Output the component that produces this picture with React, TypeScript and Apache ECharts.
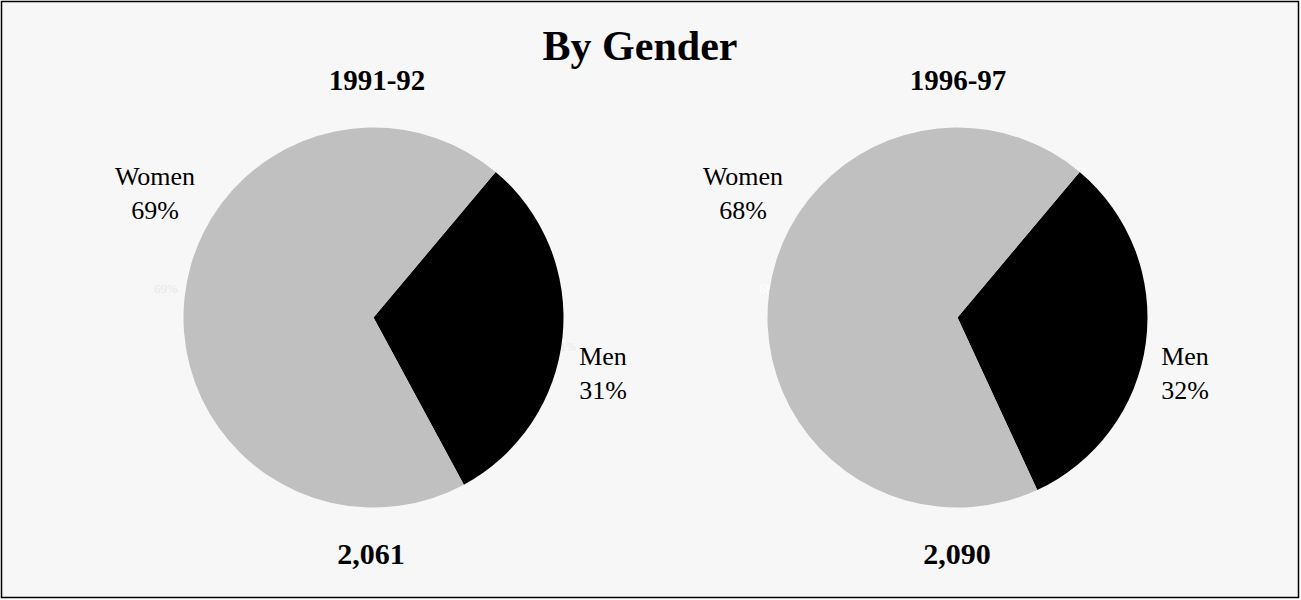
import React, { useEffect, useRef } from "react";
import * as echarts from "echarts";

const chartTitle = "By Gender";
const periods = ["1991-92", "1996-97"];
const categories = ["Men", "Women"];
const menPct = [31, 32];
const womenPct = [69, 68];
const totals = [2061, 2090];

const SERIF = "'Liberation Serif', 'Times New Roman', serif";

export default function App() {
  const ref = useRef<HTMLDivElement>(null);

  useEffect(() => {
    if (!ref.current) return;
    const chart = echarts.init(ref.current, undefined, { renderer: "svg" });

    const centers = [
      [373.5, 317.5],
      [957.5, 317.5],
    ];
    const labelPos = [
      [
        { x: 603, y: 373 },
        { x: 155, y: 193 },
      ],
      [
        { x: 1185, y: 373 },
        { x: 743, y: 193 },
      ],
    ];

    const series = periods.map((p, i) => ({
      type: "pie",
      name: p,
      center: centers[i],
      radius: 190,
      startAngle: 50,
      clockwise: true,
      silent: true,
      z: 2,
      emphasis: { disabled: true },
      label: {
        show: true,
        position: "outside",
        fontFamily: SERIF,
        fontSize: 26,
        lineHeight: 34,
        color: "#000",
        align: "center",
        formatter: (d: any) => `${d.name}\n${Math.round(d.percent)}%`,
      },
      labelLine: { show: false },
      labelLayout: (params: any) => ({
        x: labelPos[i][params.dataIndex].x,
        y: labelPos[i][params.dataIndex].y,
        align: "center",
        verticalAlign: "middle",
      }),
      data: categories.map((c, k) => ({
        name: c,
        value: k === 0 ? menPct[i] : womenPct[i],
        itemStyle: { color: k === 0 ? "#000000" : "#c0c0c0" },
      })),
    }));

    const graphics: any[] = [
      {
        type: "rect",
        z: 0,
        shape: { x: 1.5, y: 1.5, width: 1297, height: 596 },
        style: { fill: "#f7f7f7", stroke: "#000", lineWidth: 1.5 },
      },
      {
        type: "text",
        z: 10,
        x: 640,
        y: 46,
        style: {
          text: chartTitle,
          font: `bold 42px ${SERIF}`,
          fill: "#000",
          textAlign: "center",
          textVerticalAlign: "middle",
        },
      },
      // faint ghost labels behind the pies
      {
        type: "text",
        z: 1,
        x: 166,
        y: 288,
        style: {
          text: `${womenPct[0]}%`,
          font: `13px ${SERIF}`,
          fill: "#e8e8e8",
          textAlign: "center",
          textVerticalAlign: "middle",
        },
      },
      {
        type: "text",
        z: 1,
        x: 565,
        y: 347,
        style: {
          text: `${menPct[0]}%`,
          font: `12px ${SERIF}`,
          fill: "#e8e8e8",
          textAlign: "center",
          textVerticalAlign: "middle",
        },
      },
      {
        type: "text",
        z: 1,
        x: 771,
        y: 288,
        style: {
          text: `${womenPct[1]}%`,
          font: `13px ${SERIF}`,
          fill: "#ffffff",
          textAlign: "center",
          textVerticalAlign: "middle",
        },
      },
    ];

    periods.forEach((p, i) => {
      graphics.push({
        type: "text",
        z: 10,
        x: [377, 958][i],
        y: 80,
        style: {
          text: p,
          font: `bold 29px ${SERIF}`,
          fill: "#000",
          textAlign: "center",
          textVerticalAlign: "middle",
        },
      });
      graphics.push({
        type: "text",
        z: 10,
        x: [371, 957][i],
        y: 553,
        style: {
          text: totals[i].toLocaleString("en-US"),
          font: `bold 30px ${SERIF}`,
          fill: "#000",
          textAlign: "center",
          textVerticalAlign: "middle",
        },
      });
    });

    chart.setOption({
      animation: false,
      backgroundColor: "#ffffff",
      graphic: { elements: graphics },
      series,
    } as any);

    return () => chart.dispose();
  }, []);

  return (
    <div
      ref={ref}
      style={{ position: "absolute", left: 0, top: 0, width: 1301, height: 600 }}
    />
  );
}
